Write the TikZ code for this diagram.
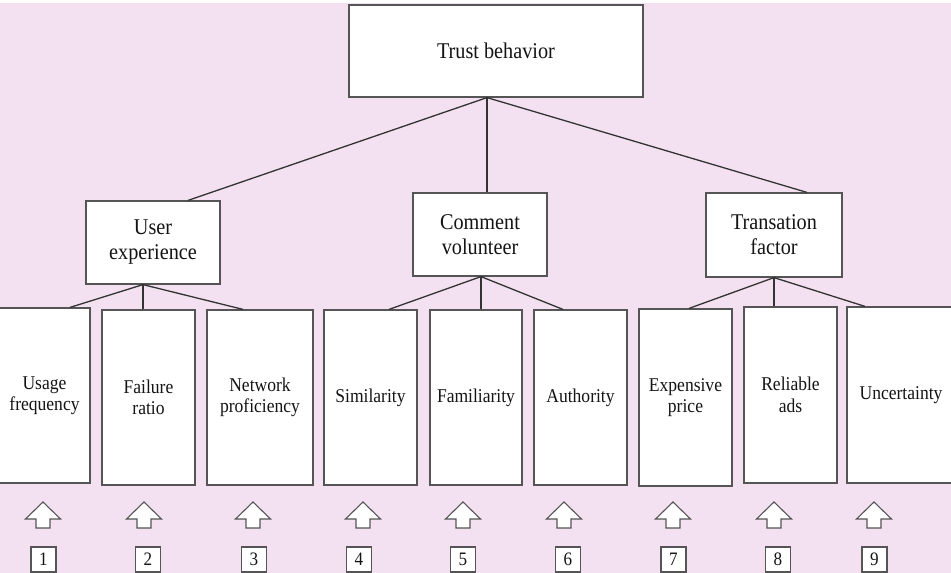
\documentclass[tikz,border=0pt]{standalone}
\usepackage{fontspec}
\setmainfont{Liberation Serif}[FakeStretch=0.9]
\definecolor{bgpink}{HTML}{F3E1F2}
\definecolor{boxline}{HTML}{555555}
\definecolor{treeline}{HTML}{333333}
\definecolor{txt}{HTML}{141414}
\begin{document}
\begin{tikzpicture}[x=1pt,y=-1pt,
  box/.style={draw=boxline, line width=1.2pt, fill=white, inner sep=0pt, text=txt, align=center},
  topbox/.style={box, font=\fontsize{22.5}{25}\selectfont},
  leafbox/.style={box, font=\fontsize{19.5}{21.5}\selectfont},
  numbox/.style={box, minimum width=25pt, minimum height=25pt, font=\fontsize{19}{20}\selectfont},
  tree/.style={draw=treeline, line width=1.3pt},
  uparrow/.style={draw=boxline, line width=1.1pt, fill=white, line join=miter}
]
\useasboundingbox (0,0) rectangle (951,573);
\clip (0,0) rectangle (951,573);
\fill[white] (0,0) rectangle (951,573);
\fill[bgpink] (0,3) rectangle (951,573);

% top and middle level
\node[topbox, minimum width=294pt, minimum height=92pt] (trust) at (496,51) {Trust behavior};
\node[topbox, minimum width=134pt, minimum height=83pt] (ue) at (153,242.5) {User\\experience};
\node[topbox, minimum width=134pt, minimum height=83pt] (cv) at (480,234.5) {Comment\\volunteer};
\node[topbox, minimum width=136pt, minimum height=84pt] (tf) at (774,235) {Transation\\factor};

% leaves
\node[leafbox, minimum width=91pt, minimum height=175pt] (uf) at (44.5,395.5) {Usage\\frequency};
\node[leafbox, minimum width=93pt, minimum height=175pt] (fr) at (148.5,397.5) {Failure\\ratio};
\node[leafbox, minimum width=106pt, minimum height=175pt] (np) at (260,397.5) {Network\\proficiency};
\node[leafbox, minimum width=93pt, minimum height=175pt] (si) at (370.5,397.5) {Similarity};
\node[leafbox, minimum width=92pt, minimum height=175pt] (fa) at (476,397.5) {Familiarity};
\node[leafbox, minimum width=93pt, minimum height=175pt] (au) at (580.5,397.5) {Authority};
\node[leafbox, minimum width=93pt, minimum height=177pt] (ep) at (685.5,397.5) {Expensive\\price};
\node[leafbox, minimum width=93pt, minimum height=176pt] (ra) at (790.5,395) {Reliable\\ads};
\node[leafbox, minimum width=108pt, minimum height=176pt] (un) at (901,395) {Uncertainty};

% tree connectors
\draw[tree] ([xshift=-9pt]trust.south) -- ([xshift=35pt]ue.north);
\draw[tree] ([xshift=-9pt]trust.south) -- ([xshift=7pt]cv.north);
\draw[tree] ([xshift=-9pt]trust.south) -- ([xshift=33pt]tf.north);

\draw[tree] ([xshift=-10pt]ue.south) -- ([xshift=25.5pt]uf.north);
\draw[tree] ([xshift=-10pt]ue.south) -- ([xshift=-5.5pt]fr.north);
\draw[tree] ([xshift=-10pt]ue.south) -- ([xshift=-17pt]np.north);

\draw[tree] ([xshift=1pt]cv.south) -- ([xshift=18.5pt]si.north);
\draw[tree] ([xshift=1pt]cv.south) -- ([xshift=5pt]fa.north);
\draw[tree] ([xshift=1pt]cv.south) -- ([xshift=-17.5pt]au.north);

\draw[tree] (tf.south) -- ([xshift=3.5pt]ep.north);
\draw[tree] (tf.south) -- ([xshift=-16.5pt]ra.north);
\draw[tree] (tf.south) -- ([xshift=-36pt]un.north);

% block arrows
\foreach \cx in {43,144,253,363,463,564,673,774,874}{
  \draw[uparrow] (\cx,502) -- (\cx+17.5,519) -- (\cx+7,519) -- (\cx+7,528)
    -- (\cx-7,528) -- (\cx-7,519) -- (\cx-17.5,519) -- cycle;
}

% number boxes
\node[numbox] (n1) at (43.5,559.5) {1};
\node[numbox] (n2) at (148,559.5) {2};
\node[numbox] (n3) at (254,559.5) {3};
\node[numbox] (n4) at (359,559.5) {4};
\node[numbox] (n5) at (463,559.5) {5};
\node[numbox] (n6) at (568,559.5) {6};
\node[numbox] (n7) at (673.5,559.5) {7};
\node[numbox] (n8) at (778,559.5) {8};
\node[numbox] (n9) at (874.5,559.5) {9};
\end{tikzpicture}
\end{document}
